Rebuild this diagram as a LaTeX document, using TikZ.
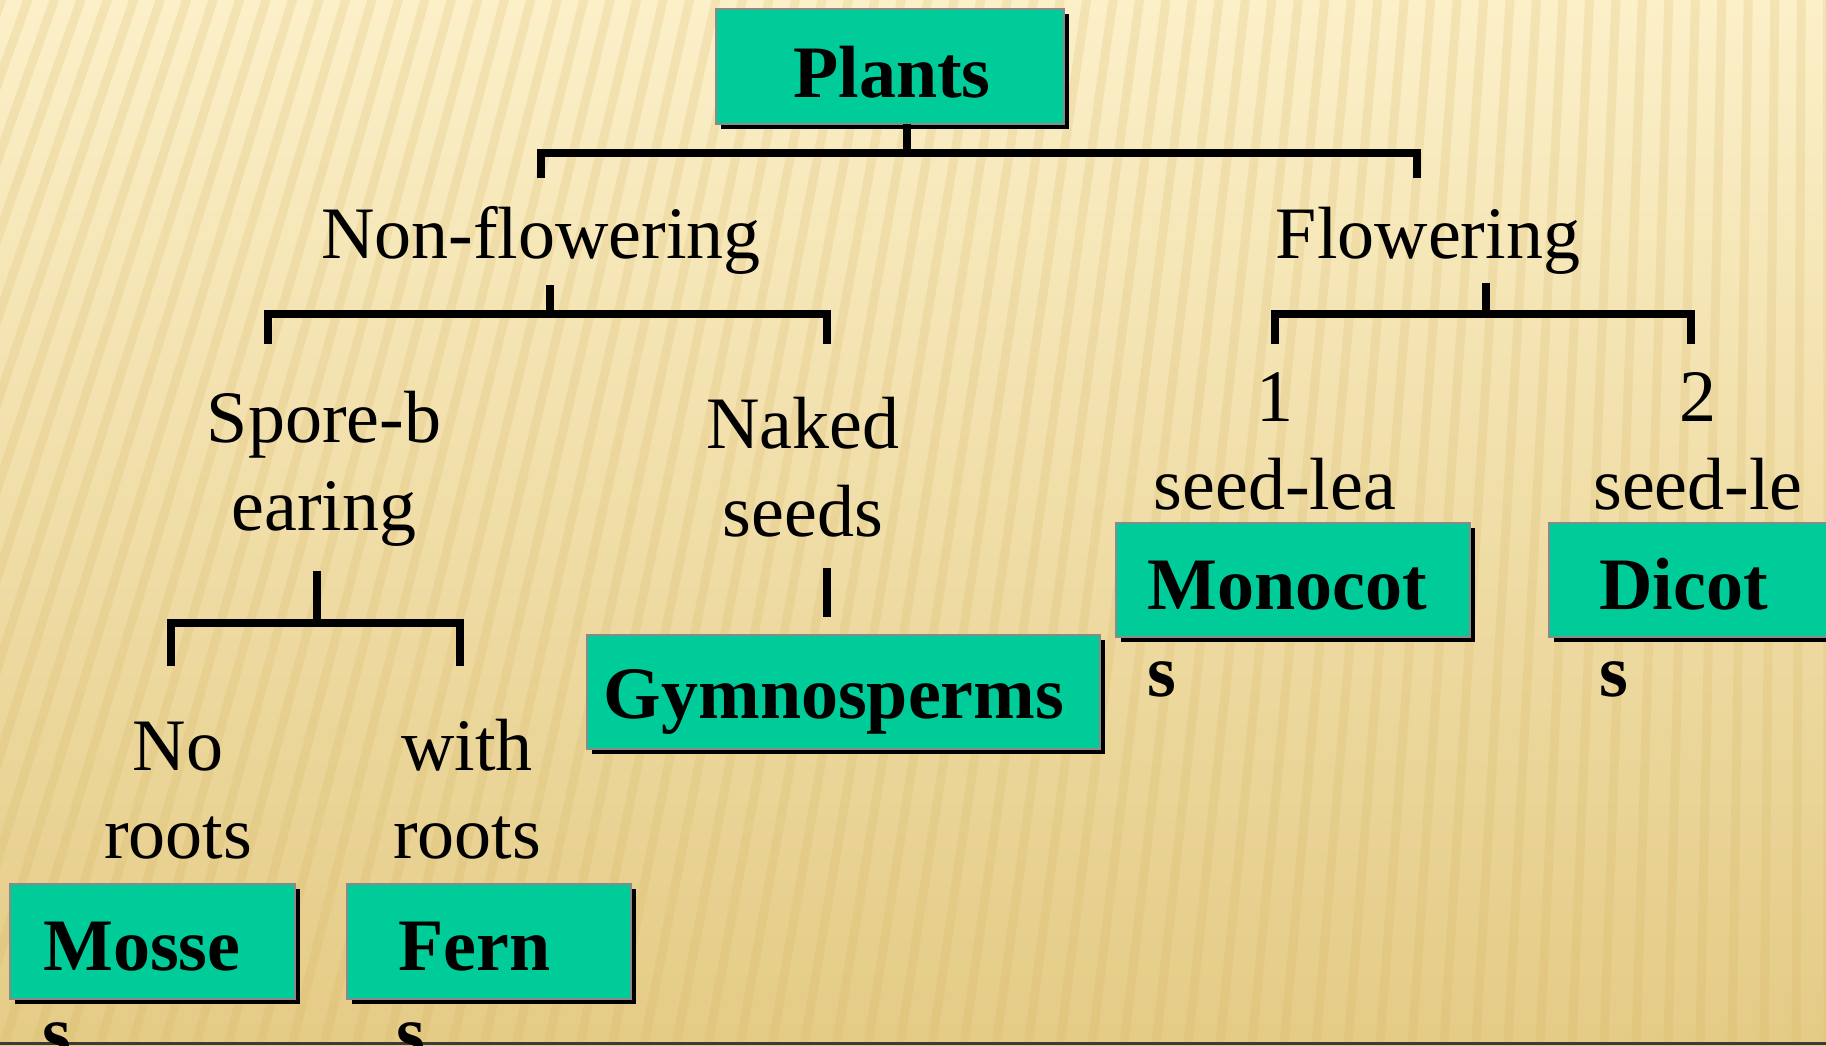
\documentclass[tikz,border=0pt]{standalone}
\usepackage{fontspec}
\setmainfont{Liberation Serif}
\usetikzlibrary{shadows}
\definecolor{boxgreen}{HTML}{00CC99}
\definecolor{boxedge}{HTML}{8A8A8A}
\definecolor{bgtop}{HTML}{FCF0C9}
\definecolor{bgmid}{HTML}{F4E3AC}
\definecolor{bgbot}{HTML}{E4CB86}
\definecolor{stripecol}{HTML}{D4B25E}
\definecolor{darkline}{HTML}{3A3A3A}
\begin{document}
\begin{tikzpicture}[x=1pt,y=-1pt,
  conn/.style={line width=7.5pt, black, line join=miter},
  box/.style={draw=boxedge, line width=2.5pt, fill=boxgreen, inner sep=0pt, outer sep=0pt,
    drop shadow={shadow xshift=4.5pt, shadow yshift=-4.5pt, fill=black, opacity=1}},
  lbl/.style={font=\fontsize{74}{88}\selectfont, inner sep=0pt, anchor=base, align=center},
  blbl/.style={font=\fontsize{74}{88}\selectfont\bfseries, inner sep=0pt, anchor=base},
  stripe/.style={line width=9pt, stripecol, opacity=0.2}]
\useasboundingbox (0,0) rectangle (1826,1045);
% background
\shade[top color=bgtop, middle color=bgmid, bottom color=bgbot] (0,0) rectangle (1826,1045);
\begin{scope}
  \clip (0,0) rectangle (1826,1045);
  \foreach \xb in {-700,-668,...,2200} \draw[stripe] (1826,-5000) -- (\xb,1045);
\end{scope}
\draw[line width=3pt, darkline] (0,1043.5) -- (1826,1043.5);

% boxes
\node[box, minimum width=348pt, minimum height=115pt] (plantsbox) at (890,66.5) {};
\node[box, minimum width=513pt, minimum height=114pt] (gymbox) at (843.5,692) {};
\node[box, minimum width=354pt, minimum height=114pt] (monobox) at (1293,580) {};
\node[box, minimum width=351pt, minimum height=114pt] (dicobox) at (1724.5,580) {};
\node[box, minimum width=285pt, minimum height=115pt] (mossbox) at (152.5,941.5) {};
\node[box, minimum width=284pt, minimum height=115pt] (fernbox) at (489,941.5) {};

% box texts
\node[blbl] (plants) at (892,97) {Plants};
\node[blbl] (gym) at (834,718) {Gymnosperms};
\node[blbl, anchor=base west] (mono) at (1147,609) {Monocot};
\node[blbl, anchor=base west] (monos) at (1147,696) {s};
\node[blbl, anchor=base west] (dico) at (1599,609) {Dicot};
\node[blbl, anchor=base west] (dicos) at (1599,696) {s};
\node[blbl, anchor=base west] (moss) at (43,970) {Mosse};
\node[blbl, anchor=base west] (mosss) at (42,1057) {s};
\node[blbl, anchor=base west] (fern) at (398,970) {Fern};
\node[blbl, anchor=base west] (ferns) at (396,1057) {s};

% plain texts (anchor = baseline of last line)
\node[lbl] (nonflow) at (541,258) {Non-flowering};
\node[lbl] (flow) at (1428,258) {Flowering};
\node[lbl] (spore) at (324,530) {Spore-b\\earing};
\node[lbl] (naked) at (803,536) {Naked\\seeds};
\node[lbl] (one) at (1275,509) {1\\seed-lea};
\node[lbl] (two) at (1698,509) {2\\seed-le};
\node[lbl] (noroots) at (178,858) {No\\roots};
\node[lbl] (withroots) at (467,858) {with\\roots};

% connectors
\coordinate (s1) at (907,153);
\coordinate (l1a) at (541,178);
\coordinate (l1b) at (1417,178);
\draw[conn] (plantsbox.south -| s1) -- (s1);
\draw[conn] (l1a) -- (l1a |- s1) -- (l1b |- s1) -- (l1b);

\coordinate (s2t) at (550,285);
\coordinate (s2) at (550,314);
\coordinate (l2a) at (268,344);
\coordinate (l2b) at (827,344);
\draw[conn] (s2t) -- (s2);
\draw[conn] (l2a) -- (l2a |- s2) -- (l2b |- s2) -- (l2b);

\coordinate (s3t) at (1486,283);
\coordinate (s3) at (1486,314);
\coordinate (l3a) at (1275,344);
\coordinate (l3b) at (1691,344);
\draw[conn] (s3t) -- (s3);
\draw[conn] (l3a) -- (l3a |- s3) -- (l3b |- s3) -- (l3b);

\coordinate (s4t) at (317,571);
\coordinate (s4) at (317,623);
\coordinate (l4a) at (171,666);
\coordinate (l4b) at (460,666);
\draw[conn] (s4t) -- (s4);
\draw[conn] (l4a) -- (l4a |- s4) -- (l4b |- s4) -- (l4b);

\coordinate (s5t) at (827,568);
\coordinate (s5b) at (827,617);
\draw[conn] (s5t) -- (s5b);
\end{tikzpicture}
\end{document}
